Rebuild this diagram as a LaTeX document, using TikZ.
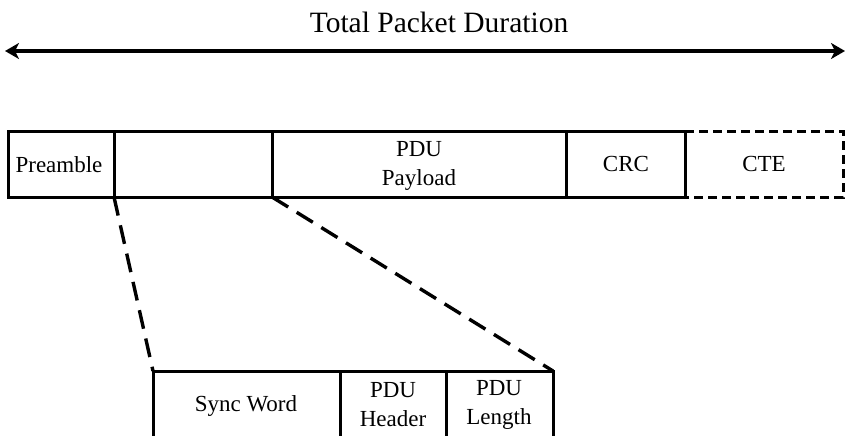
\documentclass[tikz,border=0pt]{standalone}
\usepackage{fontspec}
\setmainfont{Liberation Serif}
\usetikzlibrary{arrows.meta}
\begin{document}
\begin{tikzpicture}[x=1pt,y=-1pt,
  field/.style={draw=black,line width=3pt},
  lbl/.style={font=\fontsize{23}{29}\selectfont,align=center,inner sep=0pt},
  zoomline/.style={line width=3.4pt,dash pattern=on 19pt off 10pt}]
\useasboundingbox (0,0) rectangle (848,436);
% title and overall duration arrow
\node[inner sep=0pt,font=\fontsize{29.5}{33}\selectfont] (title) at (439,22) {Total Packet Duration};
\coordinate (al) at (5,51);
\coordinate (ar) at (845,51);
\draw[line width=3.6pt,{Stealth[length=14pt,width=16pt,inset=4pt]}-{Stealth[length=14pt,width=16pt,inset=4pt]}] (al) -- (ar);
% packet fields
\coordinate (t0) at (8,131);
\coordinate (t1) at (114,131);
\coordinate (t2) at (272,131);
\coordinate (t3) at (566,131);
\coordinate (t4) at (685,131);
\coordinate (t5) at (843,131);
\coordinate (b0) at (8,197);
\coordinate (b1) at (114,197);
\coordinate (b2) at (272,197);
\coordinate (b3) at (566,197);
\coordinate (b4) at (685,197);
\coordinate (b5) at (843,197);
\draw[field] (t4) -- (t0) -- (b0) -- (b4);
\draw[field] (t1) -- (b1);
\draw[field] (t2) -- (b2);
\draw[field] (t3) -- (b3);
\draw[field] (t4) -- (b4);
\draw[line width=3pt,dash pattern=on 9pt off 5pt] (t4) -- (t5) -- (b5) -- (b4);
\node[lbl] (pre) at (59,165) {Preamble};
\node[lbl] (pdu) at (419,166) {PDU\\Payload};
\node[lbl] (crc) at (626,164) {CRC};
\node[lbl] (cte) at (764,164) {CTE};
% expanded access header
\coordinate (s0) at (153,371);
\coordinate (s1) at (340,371);
\coordinate (s2) at (446,371);
\coordinate (s3) at (553,371);
\coordinate (e0) at (153,440);
\coordinate (e1) at (340,440);
\coordinate (e2) at (446,440);
\coordinate (e3) at (553,440);
\draw[field] (e0) -- (s0) -- (s3) -- (e3);
\draw[field] (s1) -- (e1);
\draw[field] (s2) -- (e2);
\node[lbl] (sync) at (246,406) {Sync Word};
\node[lbl] (hdr) at (393,405) {PDU\\Header};
\node[lbl] (len) at (499,405) {PDU\\Length};
% zoom lines
\draw[zoomline] (b1) -- (s0);
\draw[zoomline] (b2) -- (s3);
\end{tikzpicture}
\end{document}
